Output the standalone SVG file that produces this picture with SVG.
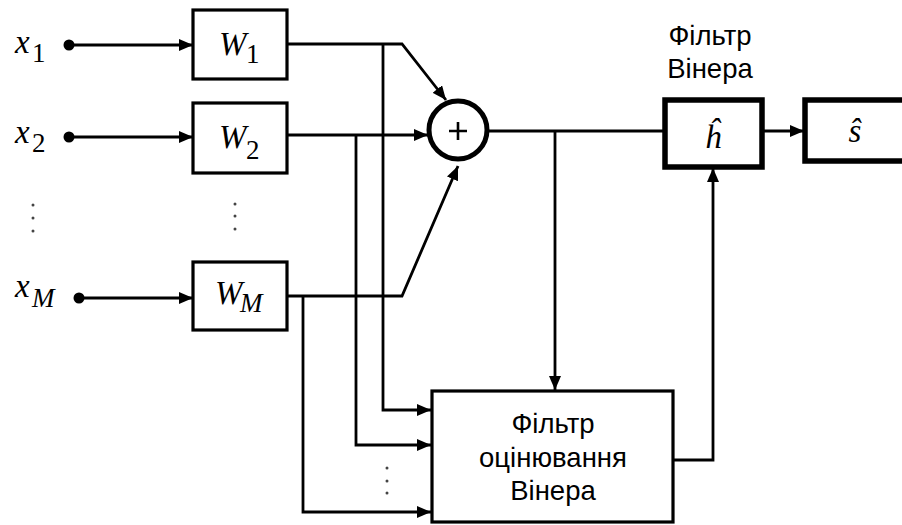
<svg xmlns="http://www.w3.org/2000/svg" width="902" height="525" viewBox="0 0 902 525">
<style>
.box{fill:#fff;stroke:#000;stroke-width:3.2}
.tbox{fill:#fff;stroke:#000;stroke-width:5.5}
.ln{fill:none;stroke:#000;stroke-width:2.8}
.m{font-family:"Liberation Serif",serif;font-style:italic;font-size:33px;fill:#000}
.sub{font-family:"Liberation Serif",serif;font-size:27px;fill:#000}
.subi{font-family:"Liberation Serif",serif;font-style:italic;font-size:27px;fill:#000}
.t{font-family:"Liberation Sans",Arial,sans-serif;font-size:27.5px;fill:#000;text-anchor:middle}
.dot{fill:#444}
</style>
<defs>
<marker id="ah" markerUnits="userSpaceOnUse" markerWidth="14" markerHeight="12" refX="14" refY="6" orient="auto">
<path d="M0,0 L14,6 L0,12 Z" fill="#000"/>
</marker>
</defs>

<g id="connectors">
<circle cx="69" cy="45" r="5.5" fill="#000"/>
<line class="ln" x1="69" y1="45" x2="193" y2="45" marker-end="url(#ah)"/>
<circle cx="69" cy="137" r="5.5" fill="#000"/>
<line class="ln" x1="69" y1="137" x2="193" y2="137" marker-end="url(#ah)"/>
<circle cx="79" cy="298" r="5.5" fill="#000"/>
<line class="ln" x1="79" y1="298" x2="193" y2="298" marker-end="url(#ah)"/>
<polyline class="ln" points="287,44 402,44 446,100" marker-end="url(#ah)"/>
<line class="ln" x1="287" y1="135" x2="428" y2="135" marker-end="url(#ah)"/>
<polyline class="ln" points="287,296 402,296 458,166" marker-end="url(#ah)"/>
<polyline class="ln" points="383,44 383,410 431,410" marker-end="url(#ah)"/>
<polyline class="ln" points="356,135 356,445 431,445" marker-end="url(#ah)"/>
<polyline class="ln" points="303,296 303,512 431,512" marker-end="url(#ah)"/>
<line class="ln" x1="487" y1="131" x2="665" y2="131"/>
<line class="ln" x1="555" y1="131" x2="555" y2="390" marker-end="url(#ah)"/>
<line class="ln" x1="762" y1="131" x2="804" y2="131" marker-end="url(#ah)"/>
<polyline class="ln" points="673,460 713,460 713,168" marker-end="url(#ah)"/>
</g>

<g id="dots">
<circle class="dot" cx="33" cy="205" r="1.5"/>
<circle class="dot" cx="33" cy="218" r="1.5"/>
<circle class="dot" cx="33" cy="231" r="1.5"/>
<circle class="dot" cx="235" cy="204" r="1.5"/>
<circle class="dot" cx="235" cy="216" r="1.5"/>
<circle class="dot" cx="235" cy="229" r="1.5"/>
<circle class="dot" cx="387" cy="468" r="1.5"/>
<circle class="dot" cx="387" cy="481" r="1.5"/>
<circle class="dot" cx="387" cy="493" r="1.5"/>
</g>

<g id="labels-x">
<text class="m" x="15" y="53">x</text><text class="sub" x="32" y="62">1</text>
<text class="m" x="15" y="143">x</text><text class="sub" x="32" y="152">2</text>
<text class="m" x="15" y="297">x</text><text class="subi" x="32" y="307">M</text>
</g>

<g id="w1">
<rect class="box" x="193" y="10" width="94" height="69"/>
<text class="m" x="219" y="55">W</text><text class="sub" x="246" y="63">1</text>
</g>
<g id="w2">
<rect class="box" x="193" y="103" width="94" height="70"/>
<text class="m" x="219" y="148">W</text><text class="sub" x="246" y="159">2</text>
</g>
<g id="wm">
<rect class="box" x="193" y="262" width="94" height="68"/>
<text class="m" x="215" y="304">W</text><text class="subi" x="240" y="312">M</text>
</g>

<g id="sum">
<circle cx="458" cy="130" r="29" fill="#fff" stroke="#000" stroke-width="5"/>
<path d="M449,131 H467 M458,122 V140" stroke="#000" stroke-width="2.6"/>
</g>

<g id="hhat">
<text class="t" x="710" y="45">Фільтр</text>
<text class="t" x="710" y="78">Вінера</text>
<rect class="tbox" x="665" y="100" width="97" height="67"/>
<text class="m" x="713" y="148" text-anchor="middle">ĥ</text>
</g>

<g id="shat">
<rect class="tbox" x="805" y="100" width="110" height="61"/>
<text class="m" x="855" y="142" text-anchor="middle">ŝ</text>
</g>

<g id="estimator">
<rect class="box" x="432" y="391" width="241" height="131"/>
<text class="t" x="553" y="433">Фільтр</text>
<text class="t" x="553" y="467">оцінювання</text>
<text class="t" x="553" y="500">Вінера</text>
</g>
</svg>
